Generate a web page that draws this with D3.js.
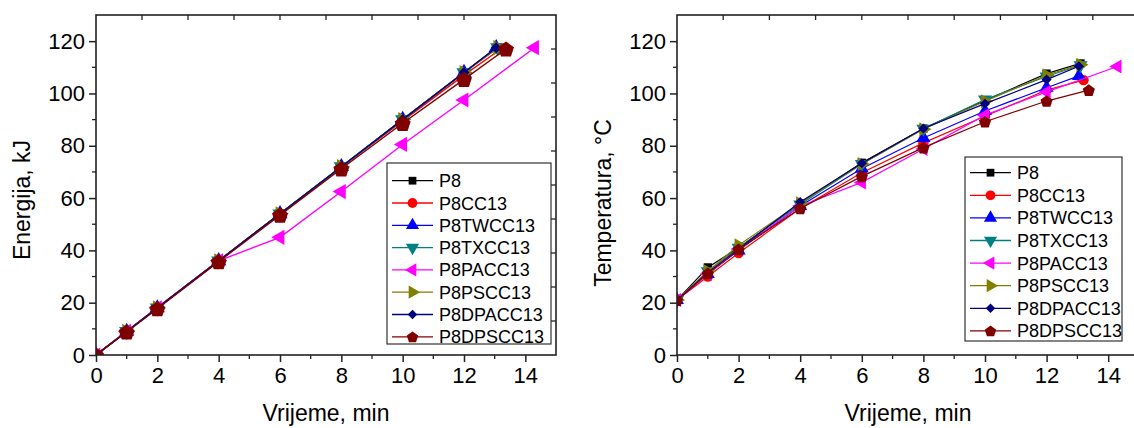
<!DOCTYPE html>
<html>
<head>
<meta charset="utf-8">
<script src="https://cdn.jsdelivr.net/npm/d3@7"></script>
<style>
  html, body { margin: 0; padding: 0; background: #fff; }
  svg { display: block; font-family: Arial, "Liberation Sans", sans-serif; }
</style>
</head>
<body>
<svg id="chart" width="1134" height="428"></svg>
<script>
// ---------------- data ----------------
const seriesNames = ["P8", "P8CC13", "P8TWCC13", "P8TXCC13", "P8PACC13", "P8PSCC13", "P8DPACC13", "P8DPSCC13"];
const seriesColors = ["#000000", "#ff0000", "#0000ff", "#008080", "#ff00ff", "#808000", "#000080", "#800000"];
const seriesMarkers = ["square", "circle", "triUp", "triDown", "triLeft", "triRight", "diamond", "pentagon"];

const timeP8     = [0, 1, 2, 4, 6, 8, 10, 12, 13.1];
const timeCC     = [0, 1, 2, 4, 6, 8, 10, 12, 13.2];
const timeTWCC   = [0, 1, 2, 4, 6, 8, 10, 12, 13.05];
const timeTXCC   = [0, 1, 2, 4, 6, 8, 10, 12, 13.1];
const timePACC   = [0, 1, 2, 4, 6, 8, 10, 12, 14.3];
const timePSCC   = [0, 1, 2, 4, 6, 8, 10, 12, 13.1];
const timeDPACC  = [0, 1, 2, 4, 6, 8, 10, 12, 13.05];
const timeDPSCC  = [0, 1, 2, 4, 6, 8, 10, 12, 13.37];

const energyP8    = [0, 9, 18, 36, 54, 72, 90, 108, 117.5];
const energyCC    = [0, 9, 18, 36, 54, 71.8, 89.5, 107, 117];
const energyTWCC  = [0, 9, 18, 36, 54, 72, 90, 108, 117.5];
const energyTXCC  = [0, 9, 18, 36, 54, 72, 90, 108, 117.5];
const energyPACC  = [0, 9, 18, 36, 45, 62.5, 80.5, 97.5, 117.5];
const energyPSCC  = [0, 9, 18, 36, 54, 72, 90, 108, 117.5];
const energyDPACC = [0, 9, 18, 36, 54, 72, 90, 108, 117.5];
const energyDPSCC = [0, 8.8, 17.7, 35.7, 53.5, 71.2, 88.6, 105.4, 117];

const tempP8    = [21, 33.5, 41, 58, 73.5, 86.6, 97.3, 107.6, 111.5];
const tempCC    = [21, 30, 39, 56, 69.7, 81.1, 91.3, 101.3, 105.1];
const tempTWCC  = [21, 31, 40, 57, 71.3, 83, 93.3, 102.2, 106.7];
const tempTXCC  = [21, 32, 41, 57.5, 73, 86.5, 97.7, 106.5, 110.8];
const tempPACC  = [21, 31, 40.5, 57, 66, 78.8, 91.7, 100.6, 110.3];
const tempPSCC  = [21, 32, 42, 58, 73, 86.3, 97, 107, 111];
const tempDPACC = [21, 31.5, 40.5, 58.5, 73.3, 86.6, 96.1, 105.3, 110.4];
const tempDPSCC = [21, 31.2, 40.4, 56, 68.3, 79.3, 89.2, 97.1, 101.3];

const times = [timeP8, timeCC, timeTWCC, timeTXCC, timePACC, timePSCC, timeDPACC, timeDPSCC];
const energies = [energyP8, energyCC, energyTWCC, energyTXCC, energyPACC, energyPSCC, energyDPACC, energyDPSCC];
const temps = [tempP8, tempCC, tempTWCC, tempTXCC, tempPACC, tempPSCC, tempDPACC, tempDPSCC];

const xTicks = [0, 2, 4, 6, 8, 10, 12, 14];
const yTicks = [0, 20, 40, 60, 80, 100, 120];
const xDomain = [0, 15];
const yDomain = [0, 130];

// ---------------- symbols ----------------
const pentagon = {
  draw(ctx, size) {
    const r = Math.sqrt(size / 2.378);
    for (let i = 0; i < 5; i++) {
      const a = -Math.PI / 2 + i * 2 * Math.PI / 5;
      const px = r * Math.cos(a), py = r * Math.sin(a) + r * 0.1;
      if (i === 0) ctx.moveTo(px, py); else ctx.lineTo(px, py);
    }
    ctx.closePath();
  }
};
function markerPath(kind, size) {
  switch (kind) {
    case "square": return { d: d3.symbol(d3.symbolSquare, size * 0.8)(), rot: 0 };
    case "circle": return { d: d3.symbol(d3.symbolCircle, size)(), rot: 0 };
    case "triUp": return { d: d3.symbol(d3.symbolTriangle, size)(), rot: 0 };
    case "triDown": return { d: d3.symbol(d3.symbolTriangle, size)(), rot: 180 };
    case "triLeft": return { d: d3.symbol(d3.symbolTriangle, size)(), rot: -90 };
    case "triRight": return { d: d3.symbol(d3.symbolTriangle, size)(), rot: 90 };
    case "diamond": return { d: d3.symbol(d3.symbolSquare, size * 0.6)(), rot: 45 };
    case "pentagon": return { d: d3.symbol(pentagon, size * 1.15)(), rot: 0 };
  }
}

const svg = d3.select("#chart");
svg.append("rect").attr("width", 1134).attr("height", 428).attr("fill", "#fff");

function drawPanel(opt) {
  const x = d3.scaleLinear().domain(xDomain).range([opt.left, opt.right]);
  const y = d3.scaleLinear().domain(yDomain).range([opt.bottom, opt.top]);
  const g = svg.append("g");
  const axisColor = "#222";

  const clipId = "clip" + opt.id;
  svg.append("clipPath").attr("id", clipId).append("rect")
    .attr("x", opt.left).attr("y", opt.top)
    .attr("width", opt.right - opt.left).attr("height", opt.bottom - opt.top);

  // series
  const plot = g.append("g").attr("clip-path", `url(#${clipId})`);
  seriesNames.forEach((name, i) => {
    const pts = times[i].map((t, k) => [t, opt.values[i][k]]);
    const line = d3.line().x(d => x(d[0])).y(d => y(d[1]));
    plot.append("path").attr("d", line(pts)).attr("fill", "none")
      .attr("stroke", seriesColors[i]).attr("stroke-width", opt.lineW);
    const m = markerPath(seriesMarkers[i], opt.markerSize * (i === 7 ? opt.lastScale : 1));
    plot.selectAll(null).data(pts).enter().append("path")
      .attr("d", m.d)
      .attr("transform", d => `translate(${x(d[0])},${y(d[1])}) rotate(${m.rot})`)
      .attr("fill", seriesColors[i]);
  });

  // minor ticks
  const xMinor = d3.range(1, 15, 2);
  const yMinor = d3.range(10, 130, 20);
  const ax = g.append("g");
  ax.selectAll(null).data(xMinor).enter().append("line")
    .attr("x1", d => x(d)).attr("x2", d => x(d))
    .attr("y1", opt.bottom).attr("y2", opt.bottom + 4)
    .attr("stroke", axisColor).attr("stroke-width", 1.3);
  ax.selectAll(null).data(yMinor).enter().append("line")
    .attr("y1", d => y(d)).attr("y2", d => y(d))
    .attr("x1", opt.left).attr("x2", opt.left - 4)
    .attr("stroke", axisColor).attr("stroke-width", 1.3);

  // secondary (top / right) inner ticks
  const topScale = d3.scaleLinear().domain([0, 10]).range([opt.left, opt.right]);
  ax.selectAll(null).data(d3.range(1, 10)).enter().append("line")
    .attr("x1", d => topScale(d)).attr("x2", d => topScale(d))
    .attr("y1", opt.top).attr("y2", opt.top + 5)
    .attr("stroke", axisColor).attr("stroke-width", 1.3);
  const rightScale = d3.scaleLinear().domain([0, opt.rightDiv]).range([opt.top, opt.bottom]);
  ax.selectAll(null).data(d3.range(1, opt.rightDiv)).enter().append("line")
    .attr("y1", d => rightScale(d)).attr("y2", d => rightScale(d))
    .attr("x1", opt.right).attr("x2", opt.right - 5)
    .attr("stroke", axisColor).attr("stroke-width", 1.3);

  // main axes
  const xAxis = d3.axisBottom(x).tickValues(xTicks).tickSize(7).tickPadding(5).tickFormat(d3.format("d"));
  const yAxis = d3.axisLeft(y).tickValues(yTicks).tickSize(7).tickPadding(4).tickFormat(d3.format("d"));
  const gx = g.append("g").attr("transform", `translate(0,${opt.bottom})`).call(xAxis);
  const gy = g.append("g").attr("transform", `translate(${opt.left},0)`).call(yAxis);
  [gx, gy].forEach(a => {
    a.select(".domain").remove();
    a.selectAll(".tick line").attr("stroke", axisColor).attr("stroke-width", 1.5);
    a.selectAll(".tick text").attr("fill", "#000").style("font-size", "22px")
      .style("font-family", "Arial, 'Liberation Sans', sans-serif");
  });

  // frame
  g.append("rect").attr("x", opt.left).attr("y", opt.top)
    .attr("width", opt.right - opt.left).attr("height", opt.bottom - opt.top)
    .attr("fill", "none").attr("stroke", axisColor).attr("stroke-width", 1.6);

  // titles
  g.append("text")
    .attr("x", (opt.left + opt.right) / 2)
    .attr("y", 421).attr("text-anchor", "middle")
    .style("font-size", "23px").attr("fill", "#000").text("Vrijeme, min");
  g.append("text")
    .attr("transform", `translate(${opt.yTitleX},${(opt.top + opt.bottom) / 2 + opt.yTitleShift}) rotate(-90)`)
    .attr("text-anchor", "middle").style("font-size", "23px").attr("fill", "#000")
    .text(opt.yTitle);

  // legend
  const lg = g.append("g");
  lg.append("rect").attr("x", opt.legX).attr("y", opt.legY)
    .attr("width", opt.legW).attr("height", opt.legH)
    .attr("fill", "#fff").attr("stroke", "#333").attr("stroke-width", 1.2);
  seriesNames.forEach((name, i) => {
    const cy = opt.legFirst + i * opt.legStep;
    lg.append("line").attr("x1", opt.legX + 5).attr("x2", opt.legX + 46)
      .attr("y1", cy).attr("y2", cy).attr("stroke", seriesColors[i]).attr("stroke-width", 1.3);
    const m = markerPath(seriesMarkers[i], 75);
    lg.append("path").attr("d", m.d)
      .attr("transform", `translate(${opt.legX + 25.5},${cy}) rotate(${m.rot})`)
      .attr("fill", seriesColors[i]);
    lg.append("text").attr("x", opt.legX + 52).attr("y", cy + 6.5)
      .style("font-size", "18px").attr("fill", "#000").text(name);
  });
}

drawPanel({
  id: "L", left: 96, right: 556, top: 15, bottom: 355,
  values: energies, yTitle: "Energija, kJ", yTitleX: 30, yTitleShift: 15,
  markerSize: 100, lastScale: 1.45, lineW: 1.4, rightDiv: 10,
  legX: 387, legY: 163, legW: 164, legH: 181, legFirst: 180.7, legStep: 22.3
});
drawPanel({
  id: "R", left: 677, right: 1139, top: 15, bottom: 355,
  values: temps, yTitle: "Temperatura, °C", yTitleX: 611, yTitleShift: 18,
  markerSize: 85, lastScale: 1, lineW: 1.2, rightDiv: 5,
  legX: 965, legY: 157, legW: 157, legH: 184, legFirst: 172.7, legStep: 22.6
});
</script>
</body>
</html>
